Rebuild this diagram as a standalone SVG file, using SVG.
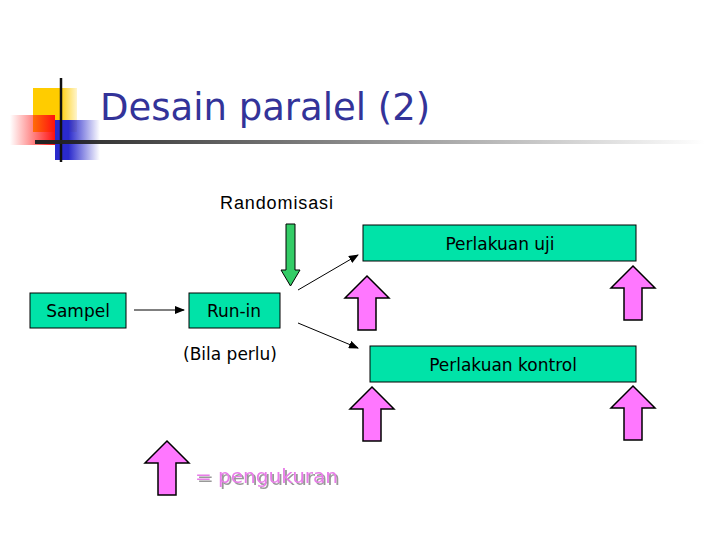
<svg xmlns="http://www.w3.org/2000/svg" width="728" height="546" viewBox="0 0 728 546">
<style>
.box{fill:#00E3A8;stroke:#000;stroke-width:1}
.t{font-family:"DejaVu Sans",Verdana,sans-serif;font-size:17px;fill:#000}
.pk{fill:#FF77FF;stroke:#000;stroke-width:1.5}
.ln{stroke:#000;stroke-width:1;fill:none}
</style>
<defs>
<linearGradient id="red" x1="1" y1="0" x2="0" y2="0"><stop offset="0" stop-color="#FF1010"/><stop offset="1" stop-color="#FF1010" stop-opacity="0"/></linearGradient>
<linearGradient id="blue" x1="0" y1="0" x2="1" y2="0"><stop offset="0.3" stop-color="#2A2ACC"/><stop offset="1" stop-color="#2A2ACC" stop-opacity="0"/></linearGradient>
<linearGradient id="yel" x1="0" y1="0" x2="1" y2="0"><stop offset="0.6" stop-color="#FFCC00"/><stop offset="1" stop-color="#FFCC00" stop-opacity="0.2"/></linearGradient>
<linearGradient id="hl" x1="0" y1="0" x2="1" y2="0"><stop offset="0" stop-color="#222"/><stop offset="1" stop-color="#222" stop-opacity="0"/></linearGradient>
<filter id="sh"><feDropShadow dx="2" dy="2" stdDeviation="0" flood-color="#999"/></filter>
<marker id="ah" markerWidth="10" markerHeight="8" refX="9" refY="4" orient="auto" markerUnits="userSpaceOnUse"><path d="M0,0 L10,4 L0,8 Z" fill="#000"/></marker>
<path id="up" d="M0,-27 L22,-5 L9,-5 L9,27 L-9,27 L-9,-5 L-22,-5 Z"/>
</defs>
<g id="decor">
<rect x="33" y="88" width="44" height="44" fill="url(#yel)"/>
<rect x="55" y="120" width="45" height="40" fill="url(#blue)"/>
<rect x="10" y="115" width="45" height="30" fill="url(#red)"/>
<line x1="61" y1="78" x2="61" y2="162" stroke="#111" stroke-width="2.5"/>
<rect x="35" y="140" width="670" height="4" fill="url(#hl)"/>
<text x="100" y="120" font-family="Verdana,'DejaVu Sans',sans-serif" font-size="37" fill="#333399">Desain paralel (2)</text>
</g>
<g id="connectors">
<line class="ln" x1="134" y1="310" x2="184" y2="310" marker-end="url(#ah)"/>
<line class="ln" x1="298" y1="290" x2="358" y2="255" marker-end="url(#ah)"/>
<line class="ln" x1="298" y1="323" x2="358" y2="348" marker-end="url(#ah)"/>
<path d="M286,224 L295,224 L295,270 L300,270 L290.5,286 L281,270 L286,270 Z" fill="#33CC66" stroke="#000" stroke-width="1"/>
</g>
<g id="randomisasi"><text x="220" y="209" textLength="113" font-family="'Liberation Sans Narrow','Liberation Sans',sans-serif" font-size="18">Randomisasi</text></g>
<g id="sampel"><rect class="box" x="30" y="293" width="96" height="35"/><text class="t" x="78" y="317" text-anchor="middle">Sampel</text></g>
<g id="runin"><rect class="box" x="189" y="293" width="91" height="35"/><text class="t" x="234" y="317" text-anchor="middle">Run-in</text>
<text class="t" x="230" y="360" text-anchor="middle">(Bila perlu)</text></g>
<g id="uji"><rect class="box" x="363" y="225" width="273" height="36"/><text class="t" x="500" y="250" text-anchor="middle">Perlakuan uji</text></g>
<g id="kontrol"><rect class="box" x="370" y="346" width="266" height="36"/><text class="t" x="503" y="371" text-anchor="middle">Perlakuan kontrol</text></g>
<g id="measures">
<use href="#up" class="pk" x="367" y="303"/>
<use href="#up" class="pk" x="633" y="293"/>
<use href="#up" class="pk" x="372" y="414"/>
<use href="#up" class="pk" x="633" y="413"/>
</g>
<g id="legend">
<use href="#up" class="pk" x="167" y="468"/>
<text x="195" y="483" filter="url(#sh)" font-family="Verdana,'DejaVu Sans',sans-serif" font-size="20" fill="#E87DE8">= pengukuran</text>
</g>
</svg>
